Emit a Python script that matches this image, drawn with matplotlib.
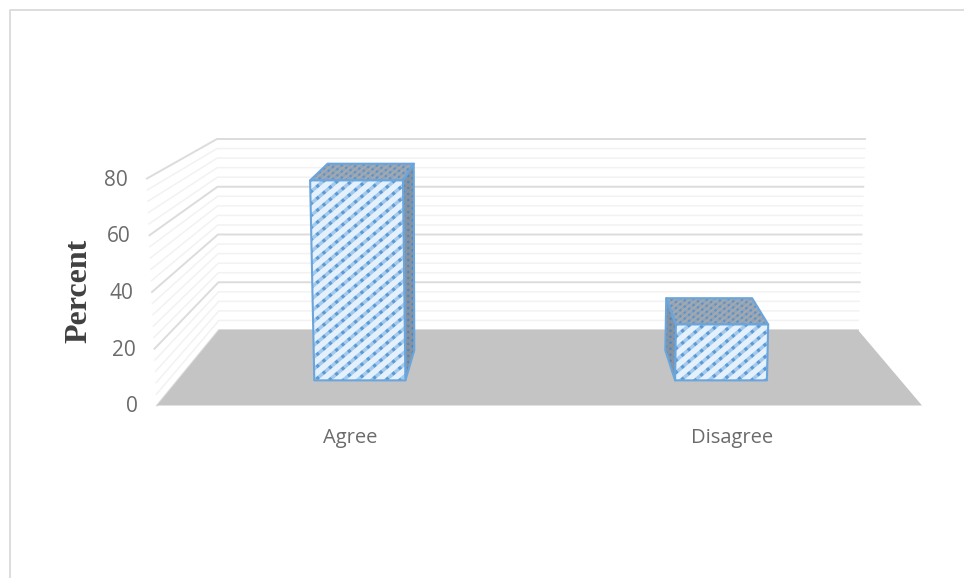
#!/usr/bin/env python3
# -*- coding: utf-8 -*-
"""3D-style column chart of agree/disagree percentages, projected by hand onto a flat axes."""
import matplotlib
matplotlib.use('Agg')
import matplotlib.pyplot as plt
import numpy as np
from matplotlib.patches import Polygon

categories = ['Agree', 'Disagree']
percent = [74.4, 20.8]
major_ticks = [0, 20, 40, 60, 80]
minor_step = 4

GRID_MAJOR = '#dcdcdc'
GRID_MINOR = '#f2f2f2'
FLOOR = '#c4c4c4'
BLUE = '#6aa5dc'
TEXT = '#6b6b6b'
FRAME = '#dadada'

# box geometry in screen pixels
FRONT_L, FRONT_R, FRONT_Y = 157, 922, 405.5
BACK_L, BACK_R, BACK_Y = 219, 858, 330
FRONT_H, BACK_H = 227 / 80, 191 / 80   # px per percent point
FRONT_SPREAD_L, FRONT_SPREAD_R = -10 / 80, 8 / 80
BACK_SPREAD_L, BACK_SPREAD_R = -2 / 80, 7 / 80

BAR_U = [(0.189, 0.315), (0.688, 0.815)]
BAR_D = (0.333, 0.73)


def project(u, d, v):
    """u across the floor (0-1), d into the depth (0-1), v the percent value."""
    left = (1 - d) * (FRONT_L + FRONT_SPREAD_L * v) + d * (BACK_L + BACK_SPREAD_L * v)
    right = (1 - d) * (FRONT_R + FRONT_SPREAD_R * v) + d * (BACK_R + BACK_SPREAD_R * v)
    y = (1 - d) * (FRONT_Y - FRONT_H * v) + d * (BACK_Y - BACK_H * v)
    return left + u * (right - left), y


def face(ax, pts, fc, band, dot, gap, dot_lw, z):
    """Filled face with a dotted diagonal pattern clipped to it."""
    poly = Polygon(pts, closed=True, fc=fc, ec='none', zorder=z)
    ax.add_patch(poly)
    arr = np.array(pts)
    lo = (arr[:, 0] + arr[:, 1]).min()
    hi = (arr[:, 0] + arr[:, 1]).max()
    xmin, xmax = arr[:, 0].min(), arr[:, 0].max()
    for c in np.arange(lo, hi, gap):
        # lines rising to the right, a little shallower than 45 degrees
        xs = np.array([xmin, xmax])
        ys = c - xmin - (xs - xmin) * 0.85
        l1, = ax.plot(xs, ys, color=band, lw=dot_lw * 1.1, zorder=z + 0.1)
        l2, = ax.plot(xs, ys, color=dot, lw=dot_lw, ls=(0, (1.0, 1.6)), zorder=z + 0.2)
        l1.set_clip_path(poly)
        l2.set_clip_path(poly)
    ax.add_patch(Polygon(pts, closed=True, fc='none', ec=BLUE, lw=1.5, joinstyle='round', zorder=z + 0.5))


fig = plt.figure(figsize=(9.64, 5.78), dpi=100)
ax = fig.add_axes([0, 0, 1, 1])
ax.set_xlim(0, 964)
ax.set_ylim(578, 0)
ax.axis('off')

# chart frame, open to the right and the bottom
ax.plot([10, 10, 964], [578, 10, 10], color=FRAME, lw=1.3, zorder=1)

# side wall and back wall gridlines
for v in range(0, major_ticks[-1] + 1, minor_step):
    is_major = v in major_ticks
    c = GRID_MAJOR if is_major else GRID_MINOR
    lw = 1.4 if is_major else 1.1
    xs = [project(0, 0, v)[0], project(0, 1, v)[0], project(1, 1, v)[0]]
    ys = [project(0, 0, v)[1], project(0, 1, v)[1], project(1, 1, v)[1]]
    ax.plot(xs, ys, color=c, lw=lw, zorder=2.5 if is_major else 2)

# floor
ax.add_patch(Polygon([project(0, 0, 0), project(0, 1, 0), project(1, 1, 0), project(1, 0, 0)],
                     closed=True, fc=FLOOR, ec='none', zorder=3))

# columns
d0, d1 = BAR_D
for i, val in enumerate(percent):
    u0, u1 = BAR_U[i]
    # the side that shows depends on which side of the vanishing point the column sits
    us = u1 if i == 0 else u0
    side = [project(us, d0, 0), project(us, d1, 0), project(us, d1, val), project(us, d0, val)]
    face(ax, side, '#8d9299', '#7f95ad', '#4f86bd', 6, 1.6, 5)
    face(ax, [project(u0, d0, val), project(u1, d0, val), project(u1, d1, val), project(u0, d1, val)],
         '#a4a9ae', '#8ea3ba', '#5f93c6', 6, 1.6, 5)
    face(ax, [project(u0, d0, 0), project(u1, d0, 0), project(u1, d0, val), project(u0, d0, val)],
         '#e4f0fb', '#a3c9ed', '#5b9bd5', 12, 2.3, 6)

# tick labels
for v in major_ticks:
    x, y = project(0, 0, v)
    ax.text(x - 19, y + 1.5, str(v), family='Open Sans', fontsize=15, color=TEXT,
            ha='right', va='center', zorder=8)

for name, (u0, u1) in zip(categories, BAR_U):
    x = project((u0 + u1) / 2, 0, 0)[0]
    ax.text(x, 438.5, name, family='Open Sans', fontsize=14.5, color=TEXT,
            ha='center', va='center', zorder=8)

ax.text(79, 291, 'Percent', family='Liberation Serif', fontweight='bold', fontsize=23,
        color='#404040', rotation=90, ha='center', va='center', zorder=8)

fig.savefig('out.png', dpi=100, facecolor='white')
